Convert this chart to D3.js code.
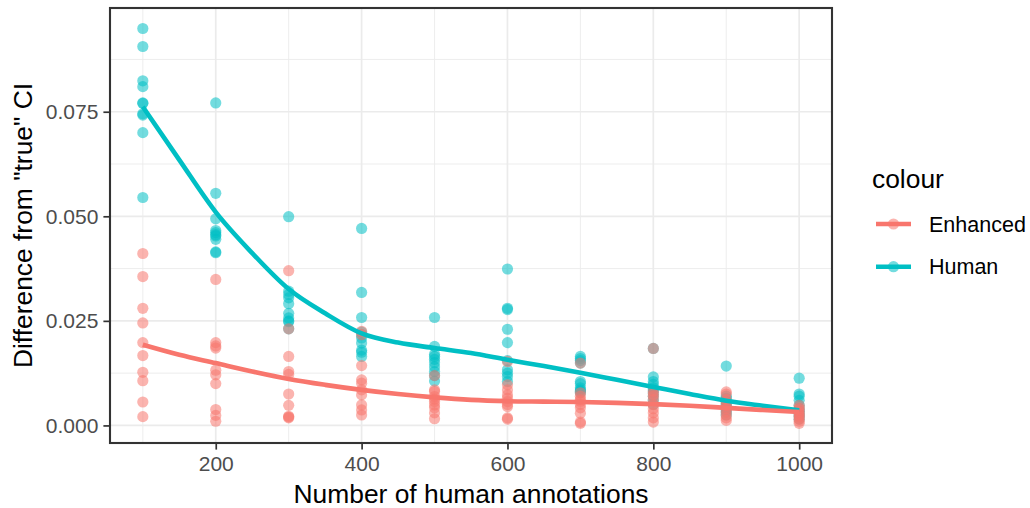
<!DOCTYPE html>
<html>
<head>
<meta charset="utf-8">
<script src="https://cdn.jsdelivr.net/npm/d3@7"></script>
<style>
  body { margin: 0; background: white; }
  text { font-family: "Liberation Sans", Arial, sans-serif; }
</style>
</head>
<body>
<svg width="1030" height="508"></svg>
<script>
// valeurs
const annotations = [100, 200, 300, 400, 500, 600, 700, 800, 900, 1000];
const human = [
  [0.0949, 0.0906, 0.0824, 0.0810, 0.0771, 0.0770, 0.0745, 0.0742, 0.0700, 0.0545],
  [0.0771, 0.0555, 0.0494, 0.0466, 0.0461, 0.0456, 0.0453, 0.0445, 0.0415, 0.0413],
  [0.0499, 0.0321, 0.0313, 0.0305, 0.0291, 0.0268, 0.0257, 0.0250, 0.0248, 0.0231],
  [0.0471, 0.0318, 0.0258, 0.0223, 0.0217, 0.0209, 0.0197, 0.0180, 0.0175, 0.0165],
  [0.0258, 0.0189, 0.0170, 0.0165, 0.0158, 0.0150, 0.0140, 0.0129, 0.0119, 0.0106],
  [0.0374, 0.0280, 0.0277, 0.0230, 0.0198, 0.0155, 0.0133, 0.0125, 0.0117, 0.0105],
  [0.0165, 0.0160, 0.0155, 0.0149, 0.0105, 0.0100, 0.0090, 0.0085, 0.0082, 0.0078],
  [0.0184, 0.0116, 0.0105, 0.0098, 0.0090, 0.0085, 0.0078, 0.0070, 0.0060, 0.0050],
  [0.0142, 0.0070, 0.0065, 0.0058, 0.0052, 0.0047, 0.0042, 0.0038, 0.0032, 0.0025],
  [0.0113, 0.0075, 0.0070, 0.0060, 0.0048, 0.0040, 0.0034, 0.0028, 0.0022, 0.0015]
];
const enhanced = [
  [0.0411, 0.0356, 0.0280, 0.0245, 0.0198, 0.0167, 0.0127, 0.0107, 0.0056, 0.0021],
  [0.0349, 0.0198, 0.0190, 0.0185, 0.0132, 0.0121, 0.0100, 0.0038, 0.0024, 0.0010],
  [0.0370, 0.0231, 0.0165, 0.0129, 0.0122, 0.0075, 0.0048, 0.0022, 0.0020, 0.0018],
  [0.0225, 0.0217, 0.0143, 0.0109, 0.0101, 0.0085, 0.0073, 0.0049, 0.0037, 0.0025],
  [0.0119, 0.0085, 0.0081, 0.0069, 0.0063, 0.0057, 0.0049, 0.0042, 0.0030, 0.0016],
  [0.0153, 0.0097, 0.0085, 0.0073, 0.0065, 0.0057, 0.0050, 0.0045, 0.0018, 0.0015],
  [0.0149, 0.0078, 0.0070, 0.0062, 0.0058, 0.0050, 0.0042, 0.0029, 0.0008, 0.0005],
  [0.0184, 0.0082, 0.0075, 0.0070, 0.0062, 0.0050, 0.0040, 0.0030, 0.0018, 0.0008],
  [0.0080, 0.0075, 0.0062, 0.0055, 0.0048, 0.0040, 0.0032, 0.0025, 0.0018, 0.0012],
  [0.0048, 0.0042, 0.0038, 0.0032, 0.0028, 0.0024, 0.0020, 0.0015, 0.0010, 0.0005]
];

// courbes lissées (loess) lues tous les 50
const smoothX = [100, 150, 200, 250, 300, 350, 400, 450, 500, 550, 600, 650, 700, 750, 800, 850, 900, 950, 1000];
const humanSmooth = [0.0762, 0.0635, 0.0510, 0.0412, 0.0326, 0.0268, 0.0220, 0.0198, 0.0185, 0.0173, 0.0157, 0.0142, 0.0126, 0.0109, 0.0092, 0.0075, 0.0059, 0.0047, 0.0036];
const enhancedSmooth = [0.0193, 0.0169, 0.0149, 0.0129, 0.0111, 0.0097, 0.0085, 0.0075, 0.0067, 0.0061, 0.0058, 0.0057, 0.0056, 0.0054, 0.0051, 0.0047, 0.0042, 0.0037, 0.0032];

const xTicks = [200, 400, 600, 800, 1000];
const xMinor = [100, 300, 500, 700, 900];
const yTicks = [0, 0.025, 0.05, 0.075];
const yMinor = [0.0125, 0.0375, 0.0625, 0.0875];
const series = ["Enhanced", "Human"];
const couleurs = {"Enhanced": "#F8766D", "Human": "#00BFC4"};

const svg = d3.select("svg");
const gauche = 110, droite = 832, haut = 8, bas = 443;

const x = d3.scaleLinear().domain([55, 1045]).range([gauche, droite]);
const y = d3.scaleLinear().domain([-0.0042, 0.0998]).range([bas, haut]);

// grille
const grille = svg.append("g");
grille.selectAll(".xmin").data(xMinor).enter().append("line")
  .attr("x1", d => x(d)).attr("x2", d => x(d)).attr("y1", haut).attr("y2", bas)
  .attr("stroke", "#EBEBEB").attr("stroke-width", 0.9);
grille.selectAll(".ymin").data(yMinor).enter().append("line")
  .attr("x1", gauche).attr("x2", droite).attr("y1", d => y(d)).attr("y2", d => y(d))
  .attr("stroke", "#EBEBEB").attr("stroke-width", 0.9);
grille.selectAll(".xmaj").data(xTicks).enter().append("line")
  .attr("x1", d => x(d)).attr("x2", d => x(d)).attr("y1", haut).attr("y2", bas)
  .attr("stroke", "#EBEBEB").attr("stroke-width", 1.7);
grille.selectAll(".ymaj").data(yTicks).enter().append("line")
  .attr("x1", gauche).attr("x2", droite).attr("y1", d => y(d)).attr("y2", d => y(d))
  .attr("stroke", "#EBEBEB").attr("stroke-width", 1.7);

// points
function points(valeurs, nom) {
  let pts = [];
  for (let i = 0; i < annotations.length; i++)
    for (let v of valeurs[i]) pts.push([annotations[i], v]);
  svg.append("g").selectAll("circle").data(pts).enter().append("circle")
    .attr("cx", d => x(d[0])).attr("cy", d => y(d[1])).attr("r", 5.6)
    .attr("fill", couleurs[nom]).attr("fill-opacity", 0.55);
}
points(human, "Human");
points(enhanced, "Enhanced");

// lignes lissées
const ligne = d3.line().x(d => x(d[0])).y(d => y(d[1])).curve(d3.curveMonotoneX);
function courbe(valeurs, nom) {
  svg.append("path").datum(smoothX.map((v, i) => [v, valeurs[i]]))
    .attr("d", ligne).attr("fill", "none")
    .attr("stroke", couleurs[nom]).attr("stroke-width", 4.6);
}
courbe(humanSmooth, "Human");
courbe(enhancedSmooth, "Enhanced");

// cadre du panneau
svg.append("rect").attr("x", gauche).attr("y", haut)
  .attr("width", droite - gauche).attr("height", bas - haut)
  .attr("fill", "none").attr("stroke", "#333333").attr("stroke-width", 2.1);

// axes
const axeX = svg.append("g").attr("transform", "translate(0," + bas + ")")
  .call(d3.axisBottom(x).tickValues(xTicks).tickFormat(d3.format("d")).tickSize(6.6).tickPadding(6));
const axeY = svg.append("g").attr("transform", "translate(" + gauche + ",0)")
  .call(d3.axisLeft(y).tickValues(yTicks).tickFormat(d3.format(".3f")).tickSize(6.6).tickPadding(5));
for (let axe of [axeX, axeY]) {
  axe.select(".domain").remove();
  axe.selectAll(".tick line").attr("stroke", "#333333").attr("stroke-width", 1.7);
  axe.selectAll(".tick text").attr("fill", "#4D4D4D")
    .style("font-size", "21px").style("font-family", "'Liberation Sans', Arial, sans-serif");
}
axeX.selectAll(".tick text").attr("dy", "0.71em");

// titres
svg.append("text").attr("x", (gauche + droite) / 2).attr("y", 503)
  .attr("text-anchor", "middle").style("font-size", "26.4px").attr("fill", "black")
  .text("Number of human annotations");
svg.append("text").attr("transform", "translate(31.5," + (haut + bas) / 2 + ") rotate(-90)")
  .attr("text-anchor", "middle").style("font-size", "26.4px").attr("fill", "black")
  .text('Difference from "true" CI');

// légende
svg.append("text").attr("x", 872).attr("y", 187.5)
  .style("font-size", "26.4px").attr("fill", "black").text("colour");
const legende = svg.append("g").selectAll("g").data(series).enter().append("g")
  .attr("transform", (d, i) => "translate(0," + (224 + i * 42.7) + ")");
legende.append("line").attr("x1", 876).attr("x2", 911).attr("y1", 0).attr("y2", 0)
  .attr("stroke", d => couleurs[d]).attr("stroke-width", 4.6);
legende.append("circle").attr("cx", 893.5).attr("cy", 0).attr("r", 5.6)
  .attr("fill", d => couleurs[d]).attr("fill-opacity", 0.55);
legende.append("text").attr("x", 929).attr("y", 7.6)
  .style("font-size", "21.5px").attr("fill", "black").text(d => d);
</script>
</body>
</html>
